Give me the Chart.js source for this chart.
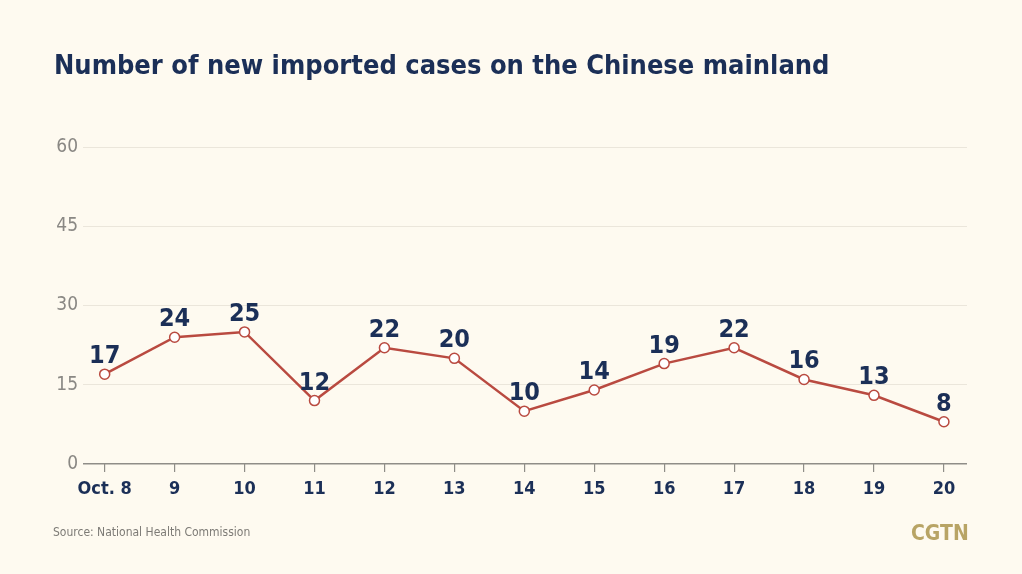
<!DOCTYPE html>
<html>
<head>
<meta charset="utf-8">
<script src="https://cdn.jsdelivr.net/npm/chart.js@4"></script>
<style>
  html, body { margin: 0; padding: 0; background: #fefaf0; }
  #wrap { position: relative; width: 1022px; height: 574px; overflow: hidden; }
  #titulo { position: absolute; left: 54px; top: 49px; font: bold 27px "DejaVu Sans Condensed", sans-serif; color: #1b2f57; letter-spacing: 0px; }
  #fonte { position: absolute; left: 53px; top: 525px; font: 12px "DejaVu Sans Condensed", sans-serif; color: #7d7b76; }
  #logo { position: absolute; left: 911px; top: 521px; font: bold 21px "DejaVu Sans Condensed", sans-serif; color: #b8a465; letter-spacing: 0px; }
  canvas { position: absolute; left: 0; top: 0; }
</style>
</head>
<body>
<div id="wrap">
  <canvas id="grafico" width="1022" height="574"></canvas>
  <div id="titulo">Number of new imported cases on the Chinese mainland</div>
  <div id="fonte">Source: National Health Commission</div>
  <div id="logo">CGTN</div>
</div>
<script>
const DIAS = ["Oct. 8", "9", "10", "11", "12", "13", "14", "15", "16", "17", "18", "19", "20"];
const CASOS = [17, 24, 25, 12, 22, 20, 10, 14, 19, 22, 16, 13, 8];
const TICKS_Y = [0, 15, 30, 45, 60];

const AZUL = "#1b2f57";
const VERMELHO = "#b94a40";

// rótulos de valor acima de cada ponto
const rotulos = {
    id: "rotulos",
    afterDatasetsDraw(chart) {
        const ctx = chart.ctx;
        const meta = chart.getDatasetMeta(0);
        ctx.save();
        ctx.font = "bold 25px 'DejaVu Sans Condensed', sans-serif";
        ctx.fillStyle = AZUL;
        ctx.textAlign = "center";
        ctx.textBaseline = "alphabetic";
        meta.data.forEach((p, i) => {
            ctx.fillText(String(CASOS[i]), p.x, p.y - 11);
        });
        ctx.restore();
    }
};

new Chart(document.getElementById("grafico").getContext("2d"), {
    type: "line",
    data: {
        datasets: [{
            data: CASOS.map((v, i) => ({ x: i, y: v })),
            borderColor: VERMELHO,
            borderWidth: 2.5,
            pointRadius: 5,
            pointBorderWidth: 1.5,
            pointBackgroundColor: "#ffffff",
            pointBorderColor: VERMELHO,
            tension: 0
        }]
    },
    options: {
        responsive: false,
        animation: false,
        layout: { padding: { top: 147, right: 55, left: 0, bottom: 0 } },
        plugins: { legend: { display: false }, tooltip: { enabled: false } },
        scales: {
            x: {
                type: "linear",
                min: -0.31,
                max: 12.33,
                afterFit: s => { s.height = 110; },
                border: { display: false },
                grid: {
                    drawOnChartArea: false,
                    drawTicks: true,
                    tickLength: 8,
                    color: "#8f8d88",
                    lineWidth: 1.2
                },
                ticks: {
                    stepSize: 1,
                    includeBounds: false,
                    padding: 7,
                    color: AZUL,
                    font: { family: "'DejaVu Sans Condensed', sans-serif", size: 18, weight: "bold" },
                    callback: v => DIAS[v]
                }
            },
            y: {
                min: 0,
                max: 60,
                afterFit: s => { s.width = 83; },
                afterBuildTicks: s => { s.ticks = TICKS_Y.map(v => ({ value: v })); },
                border: { display: false },
                grid: {
                    drawTicks: false,
                    color: c => c.tick.value === 0 ? "#8f8d88" : "#ebe6db",
                    lineWidth: c => c.tick.value === 0 ? 1.5 : 1
                },
                ticks: {
                    padding: 5,
                    color: "#8a8884",
                    font: { family: "'DejaVu Sans Condensed', sans-serif", size: 19 }
                }
            }
        }
    },
    plugins: [rotulos]
});
</script>
</body>
</html>
